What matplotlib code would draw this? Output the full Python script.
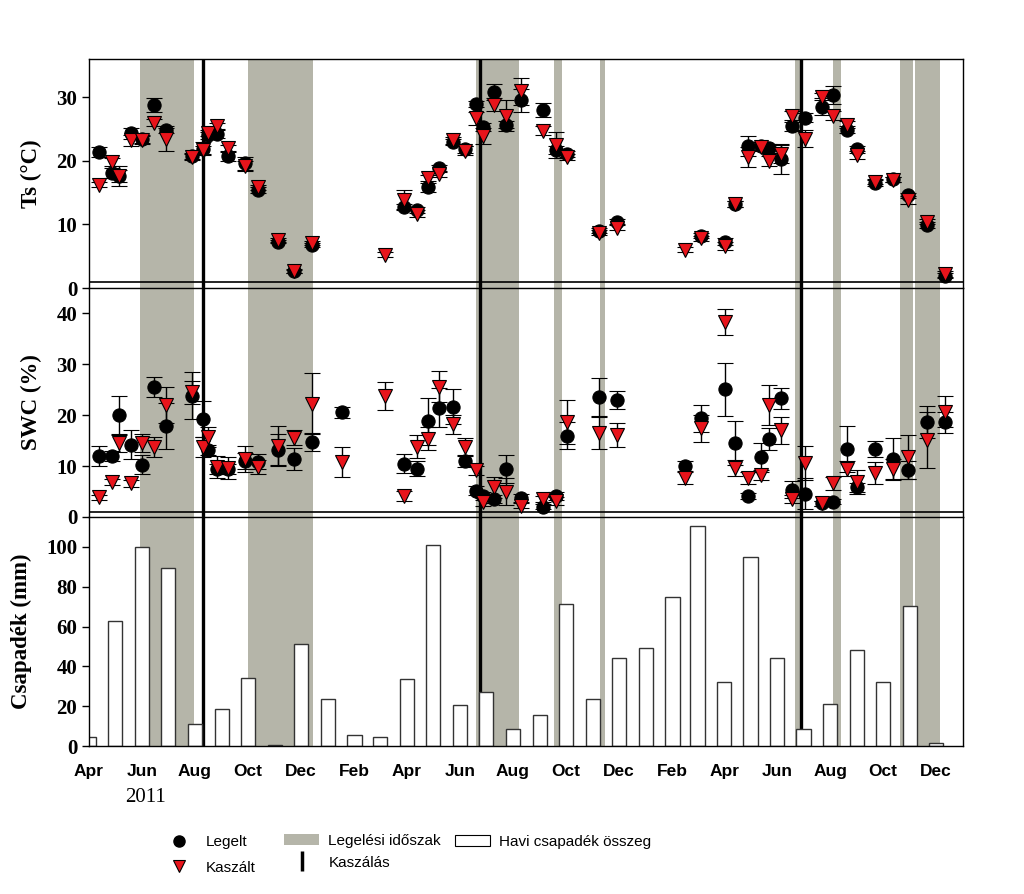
import numpy as np
import pandas as pd
import matplotlib
matplotlib.use('Agg')
import matplotlib.pyplot as plt
from matplotlib.lines import Line2D
from matplotlib.patches import Patch

# sampling dates (Jan 17 2012 only has SWC data)
dates = pd.to_datetime([
    '2011-04-12', '2011-04-27', '2011-05-05', '2011-05-19', '2011-06-01', '2011-06-15',
    '2011-06-29', '2011-07-29', '2011-08-10', '2011-08-16', '2011-08-26', '2011-09-08',
    '2011-09-28', '2011-10-13', '2011-11-05', '2011-11-23', '2011-12-14', '2012-01-17',
    '2012-03-07', '2012-03-28', '2012-04-13', '2012-04-25', '2012-05-08', '2012-05-24',
    '2012-06-07', '2012-06-19', '2012-06-28', '2012-07-10', '2012-07-24', '2012-08-10',
    '2012-09-05', '2012-09-19', '2012-10-02', '2012-11-08', '2012-11-29', '2013-02-15',
    '2013-03-06', '2013-04-02', '2013-04-14', '2013-04-28', '2013-05-14', '2013-05-23',
    '2013-06-06', '2013-06-18', '2013-07-03', '2013-07-23', '2013-08-04', '2013-08-21',
    '2013-09-01', '2013-09-22', '2013-10-13', '2013-10-30', '2013-11-20', '2013-12-11'])

nan = np.nan
ts_legelt = [21.4, 18.1, 17.6, 24.3, 23.4, 28.7, 24.9, 20.8, 21.9, 24.0, 24.2, 20.7,
             19.6, 15.4, 7.3, 2.6, 6.8, nan, nan, 12.7, 12.3, 15.8, 18.8, 23.0,
             21.8, 28.9, 25.3, 30.8, 25.7, 29.5, 28.0, 21.7, 21.1, 9.0, 10.4, nan,
             8.2, 7.3, 13.2, 22.3, 22.3, 22.0, 20.3, 25.4, 26.8, 28.5, 30.3, 24.9,
             21.8, 16.5, 17.1, 14.6, 9.9, 1.95]
ts_legelt_err = [0.8, 0.8, 1.6, 0.8, 0.6, 1.1, 0.6, 0.5, 1.0, 0.5, 0.6, 0.7,
                 1.0, 0.4, 0.3, 0.3, 0.3, nan, nan, 0.5, 0.5, 0.7, 0.5, 0.5,
                 0.5, 0.5, 0.6, 1.3, 0.6, 1.8, 1.1, 0.6, 0.5, 0.4, 0.4, nan,
                 0.4, 0.6, 0.4, 1.6, 0.6, 0.7, 2.3, 0.7, 0.7, 1.3, 1.4, 0.5,
                 0.5, 0.4, 0.4, 0.4, 0.4, 0.4]
ts_kaszalt = [16.2, 19.8, 17.6, 23.2, 23.3, 26.0, 23.4, 20.6, 21.7, 24.4, 25.5, 22.0,
              19.2, 15.8, 7.5, 2.7, 7.1, nan, 5.2, 13.9, 11.7, 17.3, 17.9, 23.2,
              21.6, 26.7, 23.9, 28.8, 27.1, 30.9, 24.7, 22.5, 20.6, 8.7, 9.5, 6.0,
              7.8, 6.6, 13.2, 20.6, 22.1, 20.0, 21.1, 27.1, 23.5, 30.1, 27.1, 25.7,
              20.9, 16.7, 17.0, 13.8, 10.4, 2.2]
ts_kaszalt_err = [0.4, 0.6, 1.0, 0.8, 0.6, 0.6, 1.8, 0.5, 0.6, 0.5, 0.5, 0.5,
                  0.8, 0.4, 0.3, 0.3, 0.3, nan, 0.4, 1.5, 0.5, 0.5, 0.5, 0.5,
                  0.7, 1.0, 1.3, 1.0, 2.4, 2.1, 0.7, 2.0, 0.5, 0.4, 0.4, 0.4,
                  0.4, 0.6, 0.4, 1.5, 0.6, 0.8, 1.4, 0.7, 1.3, 0.6, 0.7, 0.5,
                  0.6, 0.4, 0.4, 0.6, 0.4, 0.4]

swc_legelt = [12.0, 12.0, 20.0, 14.2, 10.3, 25.6, 17.9, 23.8, 19.2, 13.2, 9.4, 9.4,
              11.0, 10.9, 13.2, 11.4, 14.8, 20.6, nan, 10.5, 9.5, 18.8, 21.5, 21.7,
              11.0, 5.2, 4.1, 3.5, 9.4, 3.8, 2.0, 4.1, 16.0, 23.5, 23.0, 10.0,
              19.4, 25.1, 14.5, 4.1, 11.7, 15.3, 23.3, 5.4, 4.6, 2.7, 3.0, 13.4,
              5.8, 13.3, 11.4, 9.2, 18.7, 18.6]
swc_legelt_err = [2.0, 0.9, 3.8, 2.8, 1.8, 2.0, 4.6, 4.6, 3.5, 1.0, 1.0, 1.0,
                  1.6, 1.4, 3.2, 2.2, 1.8, 1.1, nan, 1.8, 1.5, 4.6, 3.8, 3.4,
                  1.2, 0.8, 0.8, 0.8, 2.7, 0.8, 0.5, 0.8, 2.6, 3.8, 1.8, 1.0,
                  2.6, 5.2, 4.3, 0.6, 2.8, 2.2, 2.0, 1.6, 3.0, 0.5, 0.5, 4.5,
                  0.8, 1.6, 4.2, 1.8, 3.2, 2.0]
swc_kaszalt = [3.9, 6.9, 14.6, 6.6, 14.6, 13.8, 22.0, 24.5, 13.8, 15.7, 9.8, 9.6,
               11.4, 9.8, 14.0, 15.6, 22.3, 10.8, 23.8, 4.1, 13.8, 15.4, 25.6, 18.2,
               13.7, 9.2, 3.0, 5.8, 5.0, 2.2, 3.5, 3.1, 18.6, 16.6, 16.1, 7.6,
               17.4, 38.3, 9.6, 7.7, 8.3, 22.0, 17.0, 3.5, 10.6, 2.7, 6.6, 9.5,
               6.9, 8.6, 9.4, 11.8, 15.2, 20.7]
swc_kaszalt_err = [0.5, 0.6, 1.8, 0.7, 1.8, 2.0, 3.6, 2.2, 2.0, 2.0, 2.2, 2.2,
                   2.5, 1.4, 3.8, 1.4, 5.9, 3.0, 2.8, 1.0, 2.3, 2.3, 3.0, 1.8,
                   1.8, 0.9, 0.8, 2.0, 2.6, 0.5, 0.6, 0.8, 4.3, 3.2, 2.3, 1.2,
                   2.6, 2.6, 1.6, 1.2, 1.0, 4.0, 2.6, 0.8, 3.3, 0.5, 1.2, 1.5,
                   2.4, 2.2, 2.0, 4.4, 5.5, 3.0]

# monthly precipitation sums, Apr 2011 - Dec 2013
months = pd.date_range('2011-04-01', '2013-12-01', freq='MS')
csapadek = [4.3, 62.7, 99.7, 89.3, 10.8, 18.8, 34.2, 0.7, 51.3, 23.7, 5.5,
            4.3, 33.5, 100.8, 20.5, 27.3, 8.3, 15.5, 71.5, 23.5, 44.3, 49.3,
            74.7, 110.3, 32.2, 95.0, 44.3, 8.5, 21.2, 48.3, 32.0, 70.5, 1.7]

# grazing periods and mowing dates
legeles_start = ['2011-05-30', '2011-10-01', '2012-06-19', '2012-09-17', '2012-11-09',
                 '2013-06-22', '2013-08-04', '2013-10-20', '2013-11-07']
legeles_end = ['2011-07-31', '2011-12-15', '2012-08-08', '2012-09-27', '2012-11-15',
               '2013-06-28', '2013-08-14', '2013-11-04', '2013-12-05']
kaszalas = ['2011-08-10', '2012-06-24', '2013-06-29']

shade = '#b5b5a9'
red = '#e8141b'
serif = 'Liberation Serif'
sans = 'Liberation Sans'

fig = plt.figure(figsize=(10.24, 8.94), dpi=100)
left, width = 89 / 1024, (963 - 89) / 1024
tops = [59, 288, 517, 746]
axes = []
for i in range(3):
    b = 1 - tops[i + 1] / 894
    h = (tops[i + 1] - tops[i]) / 894
    axes.append(fig.add_axes([left, b, width, h]))
ax_ts, ax_swc, ax_p = axes

xmin, xmax = pd.Timestamp('2011-04-01'), pd.Timestamp('2014-01-01')

for ax in axes:
    for s, e in zip(legeles_start, legeles_end):
        ax.axvspan(pd.Timestamp(s), pd.Timestamp(e), color=shade, lw=0, zorder=0)
    for k in kaszalas:
        ax.axvline(pd.Timestamp(k), color='black', lw=2.4, zorder=1)
    ax.set_xlim(xmin, xmax)
    ax.tick_params(axis='x', length=0)
    ax.tick_params(axis='y', direction='out', length=5, width=1)
    for sp in ax.spines.values():
        sp.set_linewidth(1.0)


def points(ax, y, err, marker, color, ms):
    ax.errorbar(dates, y, yerr=err, fmt=marker, color='black', ecolor='black',
                mfc=color, mec='black', mew=0.8, ms=ms, capsize=5.5, elinewidth=1,
                capthick=1, zorder=3)


points(ax_ts, ts_legelt, ts_legelt_err, 'o', 'black', 9.5)
points(ax_ts, ts_kaszalt, ts_kaszalt_err, 'v', red, 10)
points(ax_swc, swc_legelt, swc_legelt_err, 'o', 'black', 9.5)
points(ax_swc, swc_kaszalt, swc_kaszalt_err, 'v', red, 10)

ax_p.bar(months, csapadek, width=17, color='white', edgecolor='#333333', lw=1, zorder=2)

ax_ts.set_ylim(0, 36)
ax_ts.set_yticks([0, 10, 20, 30])
ax_swc.set_ylim(0, 45)
ax_swc.set_yticks([0, 10, 20, 30, 40])
ax_p.set_ylim(0, 115)
ax_p.set_yticks([0, 20, 40, 60, 80, 100])

for ax in (ax_ts, ax_swc):
    ax.axhline(1.0, color='black', lw=1.2, zorder=2)
    ax.spines['bottom'].set_color('#777777')
    ax.spines['bottom'].set_linewidth(0.8)

ticks = pd.date_range('2011-04-01', '2013-12-01', freq='2MS')
for ax in axes:
    ax.set_xticks(ticks)
ax_p.set_xticklabels([t.strftime('%b') for t in ticks], fontfamily=sans,
                     fontweight='bold', fontsize=12.5)
ax_ts.set_xticklabels([])
ax_swc.set_xticklabels([])
ax_p.tick_params(axis='x', pad=13)

for ax, lab in zip(axes, ['Ts (°C)', 'SWC (%)', 'Csapadék (mm)']):
    for t in ax.get_yticklabels():
        t.set_fontfamily(serif)
        t.set_fontweight('bold')
        t.set_fontsize(15)
    ax.set_ylabel(lab, fontfamily=serif, fontweight='bold', fontsize=16.5, labelpad=10)

fig.text(145 / 1024, 1 - 798 / 894, '2011', fontfamily=serif, fontsize=15,
         ha='center', va='center')

# legend in three separate groups, placed as in the original
leg_prop = {'family': sans, 'size': 11}
groups = [
    ([Line2D([], [], marker='o', color='black', ls='none', ms=8),
      Line2D([], [], marker='v', mfc=red, mec='black', mew=0.8, ls='none', ms=8)],
     ['Legelt', 'Kaszált'], 161, 855, 0.75),
    ([Patch(facecolor=shade, edgecolor='none'),
      Line2D([], [], marker='|', color='black', ls='none', ms=15, mew=2.5)],
     ['Legelési időszak', 'Kaszálás'], 284, 852, 0.5),
    ([Patch(facecolor='white', edgecolor='black', lw=0.8)],
     ['Havi csapadék összeg'], 455, 842, 0.5),
]
for hs, ls, x0, y0, sp in groups:
    fig.legend(hs, ls, loc='center left', bbox_to_anchor=(x0 / 1024, 1 - y0 / 894),
               frameon=False, prop=leg_prop, handlelength=2.3, handletextpad=0.6,
               labelspacing=sp, borderpad=0, borderaxespad=0)

fig.savefig('out.png', dpi=100)
